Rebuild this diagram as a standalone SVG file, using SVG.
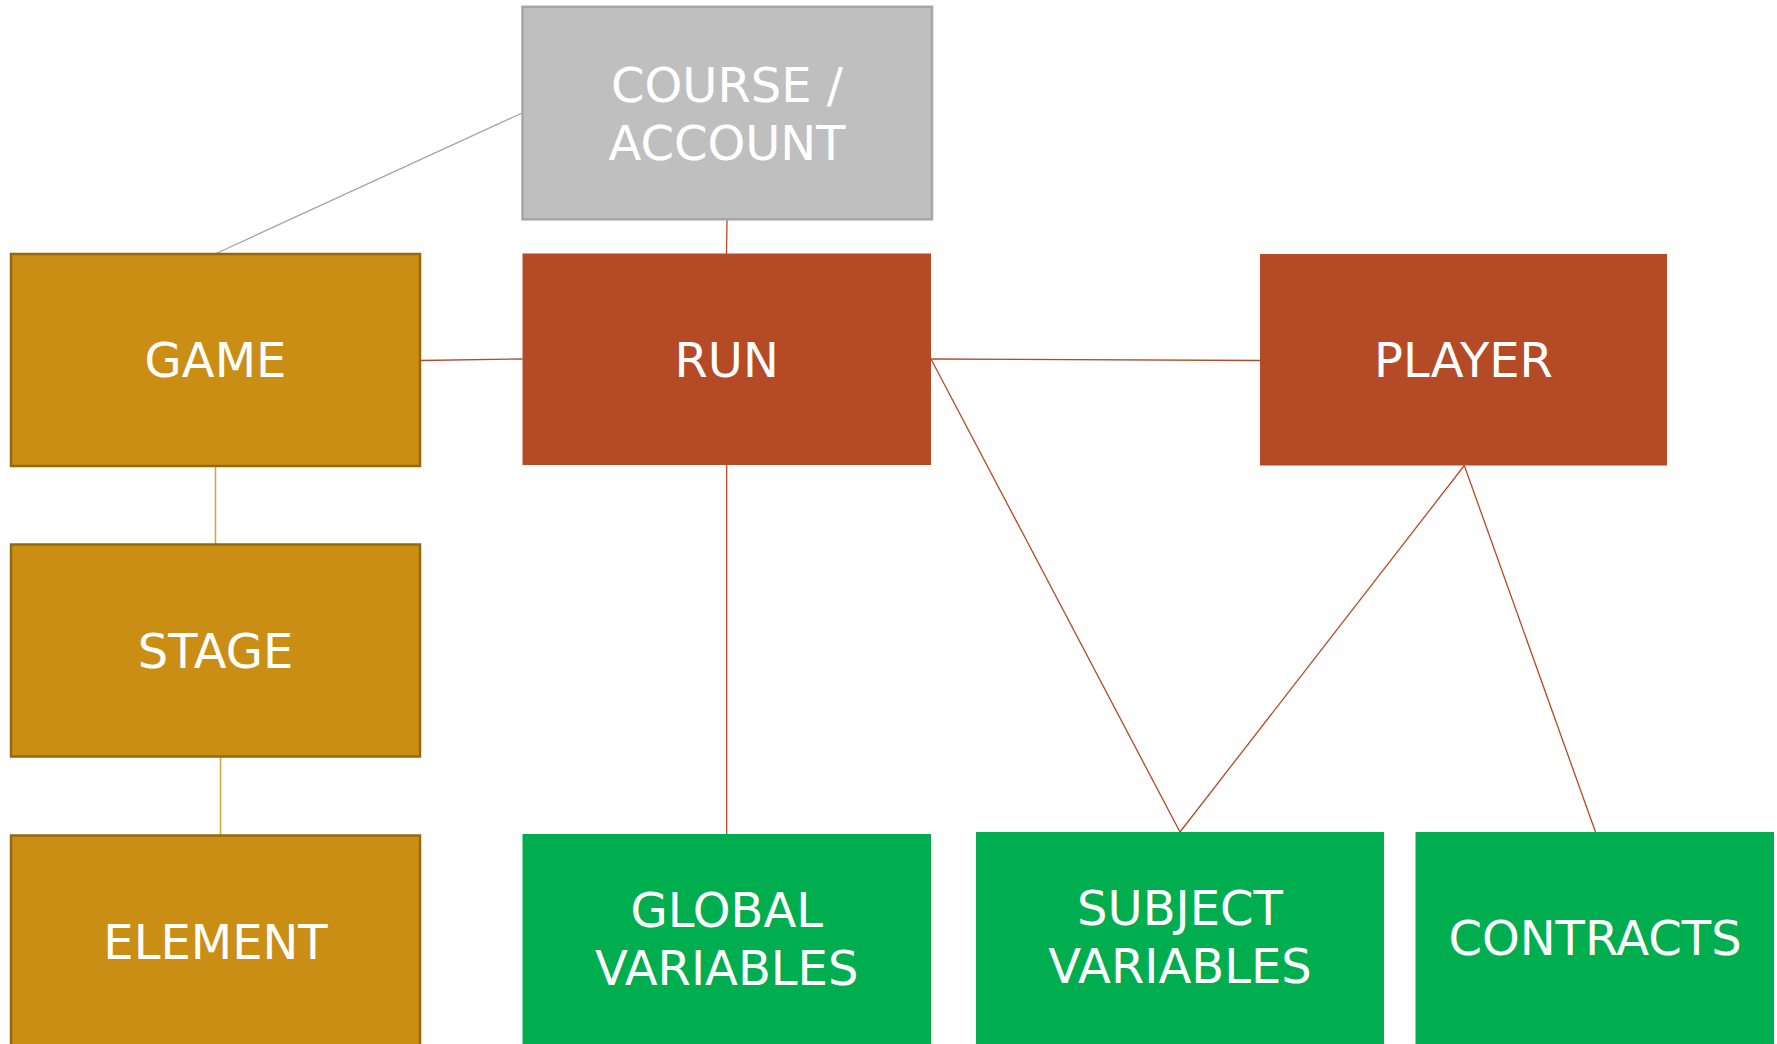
<svg xmlns="http://www.w3.org/2000/svg" width="1777" height="1044" viewBox="0 0 1777 1044">
<style>
.lbl{font-family:"DejaVu Sans","Verdana",sans-serif;font-size:48px;fill:#ffffff;text-anchor:middle}
.gray{fill:#bfbfbf;stroke:#a6a6a6;stroke-width:2.5}
.gold{fill:#cb8e14;stroke:#956a0c;stroke-width:2.5}
.red{fill:#b54a26}
.green{fill:#00ae4f}
.cg{stroke:#a6a6a6;stroke-width:1.3;fill:none}
.cr{stroke:#b54a26;stroke-width:1.3;fill:none}
.co{stroke:#d6a23e;stroke-width:1.5;fill:none}
</style>
<rect width="1777" height="1044" fill="#ffffff"/>
<g id="connectors">
<line class="cg" x1="522" y1="113" x2="215" y2="254"/>
<line class="cr" x1="727" y1="220" x2="726.5" y2="254"/>
<line class="cr" x1="420" y1="360.5" x2="522.5" y2="359"/>
<line class="cr" x1="931" y1="359" x2="1260" y2="360.5"/>
<line class="cr" x1="931" y1="359" x2="1180" y2="832"/>
<line class="cr" x1="1464.3" y1="465.5" x2="1180" y2="832"/>
<line class="cr" x1="1464.3" y1="465.5" x2="1595.5" y2="832"/>
<line class="cr" x1="726.7" y1="465" x2="726.7" y2="834"/>
<line class="co" x1="215.5" y1="467" x2="215.5" y2="544"/>
<line class="co" x1="220.5" y1="757" x2="220.5" y2="835"/>
</g>
<g id="course">
<rect class="gray" x="522.5" y="6.8" width="409.5" height="212.5"/>
<text class="lbl" x="727" y="101.5">COURSE /</text>
<text class="lbl" x="727" y="159.5">ACCOUNT</text>
</g>
<g id="game">
<rect class="gold" x="11" y="254" width="409" height="212"/>
<text class="lbl" x="215.5" y="377">GAME</text>
</g>
<g id="run">
<rect class="red" x="522.5" y="253.5" width="408.5" height="211.5"/>
<text class="lbl" x="726.7" y="376.5">RUN</text>
</g>
<g id="player">
<rect class="red" x="1260" y="254" width="407" height="211.5"/>
<text class="lbl" x="1463.5" y="377">PLAYER</text>
</g>
<g id="stage">
<rect class="gold" x="11" y="544.5" width="409" height="212"/>
<text class="lbl" x="215.5" y="667.5">STAGE</text>
</g>
<g id="element">
<rect class="gold" x="11" y="835.5" width="409" height="215"/>
<text class="lbl" x="215.5" y="959">ELEMENT</text>
</g>
<g id="global">
<rect class="green" x="522.5" y="834" width="408.5" height="215"/>
<text class="lbl" x="726.7" y="927">GLOBAL</text>
<text class="lbl" x="726.7" y="985">VARIABLES</text>
</g>
<g id="subject">
<rect class="green" x="976" y="832" width="408" height="215"/>
<text class="lbl" x="1180" y="925">SUBJECT</text>
<text class="lbl" x="1180" y="983">VARIABLES</text>
</g>
<g id="contracts">
<rect class="green" x="1415.5" y="832" width="358.5" height="215"/>
<text class="lbl" x="1595" y="955">CONTRACTS</text>
</g>
</svg>
